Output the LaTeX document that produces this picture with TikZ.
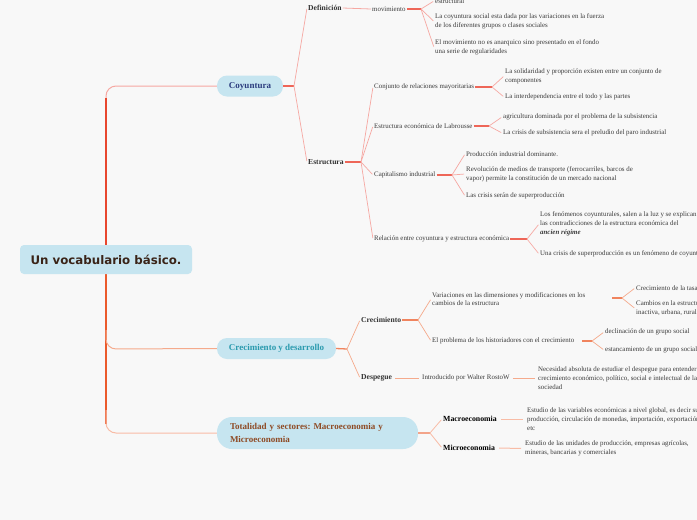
\documentclass[tikz,border=0pt]{standalone}
\usepackage{fontspec}
\setmainfont{Liberation Serif}
\newfontfamily\rootfont{DejaVu Sans}
\frenchspacing
\definecolor{bgc}{HTML}{F8F8F8}
\definecolor{boxc}{HTML}{C6E5F0}
\definecolor{leafc}{HTML}{3A3A3A}
\definecolor{lblc}{HTML}{333333}
\definecolor{rootc}{HTML}{3A2418}
\definecolor{coyc}{HTML}{2B3C7E}
\definecolor{crec}{HTML}{2A9AAE}
\definecolor{totc}{HTML}{8E4A24}
\definecolor{trunkA}{HTML}{E8472E}
\definecolor{trunkB}{HTML}{EB5A2C}
\definecolor{coyS}{HTML}{EE6658}
\definecolor{coyL}{HTML}{F6A8A2}
\definecolor{creS}{HTML}{F0845E}
\definecolor{creL}{HTML}{F5AA8C}
\definecolor{totS}{HTML}{F3A48A}
\definecolor{totL}{HTML}{F8BCA6}
\tikzset{
  leaf/.style={anchor=west, inner sep=1pt, align=left, text=leafc, font=\fontsize{6.9}{8.8}\selectfont},
  lbl/.style={anchor=west, inner sep=1pt, text=lblc, font=\fontsize{7.6}{9}\selectfont\bfseries},
  mbox/.style={fill=boxc, draw=none, inner sep=0pt, minimum height=21pt, font=\fontsize{9}{13}\selectfont\bfseries},
  cstub/.style={draw=coyS, line width=1.3pt},
  cline/.style={draw=coyL, line width=0.7pt, shorten >=1pt},
  rstub/.style={draw=creS, line width=1.3pt},
  rline/.style={draw=creL, line width=0.7pt, shorten >=1pt},
  tstub/.style={draw=totS, line width=1.3pt},
  tline/.style={draw=totL, line width=0.8pt, shorten >=1pt},
}
\begin{document}
\begin{tikzpicture}[x=1pt,y=-1pt]
\fill[bgc] (0,0) rectangle (697,520);
\useasboundingbox (0,0) rectangle (697,520);

% main boxes
\node[mbox, rounded corners=10pt, minimum width=66pt, text=coyc] (coy) at (250,86) {Coyuntura};
\node[mbox, rounded corners=10pt, minimum width=119pt, text=crec] (cre) at (276.5,348.5) {Crecimiento y desarrollo};
\node[mbox, rounded corners=15pt, minimum width=201pt, minimum height=32pt, text=totc, align=left, text width=175pt] (tot) at (317.5,433) {Totalidad y sectores: Macroeconomia y\\Microeconomia};

% trunk
\draw[draw=coyL, line width=1pt, rounded corners=10pt] (coy.west) -- (106,86) -- (106,112);
\draw[draw=trunkA, line width=2pt] (106,98) -- (106,260);
\draw[draw=trunkB, line width=2pt] (106,259) -- (106,424);
\draw[draw=creL, line width=1pt, rounded corners=10pt] (106,330) -- (106,349) -- (cre.west);
\draw[draw=totL, line width=1pt, rounded corners=10pt] (106,410) -- (106,433) -- (tot.west);

\node[fill=boxc, rounded corners=4pt, minimum width=172pt, minimum height=29pt, inner sep=0pt, text=rootc, font=\rootfont\fontsize{11.8}{13}\selectfont\bfseries] (root) at (106,259.5) {Un vocabulario básico.};

% ---------------- Coyuntura
\coordinate (coyF) at (294,86);
\node[lbl] (def) at (307,8) {Definición};
\node[lbl] (est) at (307,162) {Estructura};
\draw[cstub] (coy.east) -- (coyF);
\draw[cline] (coyF) -- (def.west);
\draw[cline] (coyF) -- (est.west);

\node[leaf] (mov) at (371,9) {movimiento};
\draw[draw=coyL, line width=0.8pt] (def.east) -- (mov.west);
\coordinate (movF) at (421,9);
\draw[cstub] (mov.east) -- (movF);
\node[leaf] (m1) at (434,1) {estructural};
\node[leaf] (m2) at (434,21.5) {La coyuntura social esta dada por las variaciones en la fuerza\\de los diferentes grupos o clases sociales};
\node[leaf] (m3) at (434,47.5) {El movimiento no es anarquico sino presentado en el fondo\\una serie de regularidades};
\draw[cline] (movF) -- (m1.west);
\draw[cline] (movF) -- (m2.west);
\draw[cline] (movF) -- (m3.west);

\coordinate (estF) at (361,162);
\draw[cstub] (est.east) -- (estF);
\node[leaf] (conj) at (373,87) {Conjunto de relaciones mayoritarias};
\node[leaf] (lab) at (373,126) {Estructura económica de Labrousse};
\node[leaf] (cap) at (373,175) {Capitalismo industrial};
\node[leaf] (rel) at (373,239) {Relación entre coyuntura y estructura económica};
\draw[cline] (estF) -- (conj.west);
\draw[cline] (estF) -- (lab.west);
\draw[cline] (estF) -- (cap.west);
\draw[cline] (estF) -- (rel.west);

\coordinate (conjF) at (492,87);
\draw[cstub] (conj.east) -- (conjF);
\node[leaf] (c1) at (504,76) {La solidaridad y proporción existen entre un conjunto de\\componentes};
\node[leaf] (c2) at (504,97) {La interdependencia entre el todo y las partes};
\draw[cline] (conjF) -- (c1.west);
\draw[cline] (conjF) -- (c2.west);

\coordinate (labF) at (489,126);
\draw[cstub] (lab.east) -- (labF);
\node[leaf] (l1) at (502,117) {agricultura dominada por el problema de la subsistencia};
\node[leaf] (l2) at (502,133) {La crisis de subsistencia sera el preludio del paro industrial};
\draw[cline] (labF) -- (l1.west);
\draw[cline] (labF) -- (l2.west);

\coordinate (capF) at (452,175);
\draw[cstub] (cap.east) -- (capF);
\node[leaf] (k1) at (465,154) {Producción industrial dominante.};
\node[leaf] (k2) at (465,174) {Revolución de medios de transporte (ferrocarriles, barcos de\\vapor) permite la constitución de un mercado nacional};
\node[leaf] (k3) at (465,196) {Las crisis serán de superproducción};
\draw[cline] (capF) -- (k1.west);
\draw[cline] (capF) -- (k2.west);
\draw[cline] (capF) -- (k3.west);

\coordinate (relF) at (527,239);
\draw[cstub] (rel.east) -- (relF);
\node[leaf] (r1) at (539,224) {Los fenómenos coyunturales, salen a la luz y se explican por\\las contradicciones de la estructura económica del\\\textbf{\textit{ancien régime}}};
\node[leaf] (r2) at (539,254) {Una crisis de superproducción es un fenómeno de coyuntura};
\draw[cline] (relF) -- (r1.west);
\draw[cline] (relF) -- (r2.west);

% ---------------- Crecimiento y desarrollo
\coordinate (creF) at (347,349);
\draw[rstub] (cre.east) -- (creF);
\node[lbl] (crc) at (360,320) {Crecimiento};
\node[lbl] (desp) at (360,378) {Despegue};
\draw[rline] (creF) -- (crc.west);
\draw[rline] (creF) -- (desp.west);

\coordinate (crcF) at (418,320);
\draw[rstub] (crc.east) -- (crcF);
\node[leaf] (var) at (431,299) {Variaciones en las dimensiones y modificaciones en los\\cambios de la estructura};
\node[leaf] (prob) at (431,341) {El problema de los historiadores con el crecimiento};
\draw[rline] (crcF) -- (var.west);
\draw[rline] (crcF) -- (prob.west);

\coordinate (varS) at (612,298);
\coordinate (varF) at (622,298);
\draw[rstub] (varS) -- (varF);
\node[leaf] (v1) at (635,288) {Crecimiento de la tasa de natalidad};
\node[leaf] (v2) at (635,308.5) {Cambios en la estructura de la población activa,\\inactiva, urbana, rural};
\draw[rline] (varF) -- (v1.west);
\draw[rline] (varF) -- (v2.west);

\coordinate (probS) at (582,341);
\coordinate (probF) at (592,341);
\draw[rstub] (probS) -- (probF);
\node[leaf] (p1) at (604,332) {declinación de un grupo social};
\node[leaf] (p2) at (604,350) {estancamiento de un grupo social};
\draw[rline] (probF) -- (p1.west);
\draw[rline] (probF) -- (p2.west);

\node[leaf] (intro) at (421,378) {Introducido por Walter RostoW};
\node[leaf] (nec) at (537,378) {Necesidad absoluta de estudiar el despegue para entender el\\crecimiento económico, político, social e intelectual de la\\sociedad};
\draw[draw=creL, line width=1pt, shorten <=2pt, shorten >=2pt] (desp.east) -- (intro.west);
\draw[draw=creL, line width=1pt, shorten <=2pt, shorten >=2pt] (intro.east) -- (nec.west);

% ---------------- Totalidad
\coordinate (totF) at (430,433);
\draw[tstub] (tot.east) -- (totF);
\node[lbl, text=black, font=\fontsize{7.8}{9}\selectfont\bfseries] (mac) at (442,419) {Macroeconomia};
\node[lbl, text=black, font=\fontsize{7.8}{9}\selectfont\bfseries] (mic) at (442,448) {Microeconomia};
\draw[tline] (totF) -- (mac.west);
\draw[tline] (totF) -- (mic.west);

\node[leaf] (macT) at (526,419) {Estudio de las variables económicas a nivel global, es decir su\\producción, circulación de monedas, importación, exportación,\\etc};
\node[leaf] (micT) at (524,448.5) {Estudio de las unidades de producción, empresas agrícolas,\\mineras, bancarias y comerciales};
\draw[draw=totL, line width=1pt, shorten <=3pt, shorten >=3pt] (mac.east) -- (macT.west);
\draw[draw=totL, line width=1pt, shorten <=3pt, shorten >=3pt] (mic.east) -- (micT.west);
\end{tikzpicture}
\end{document}
